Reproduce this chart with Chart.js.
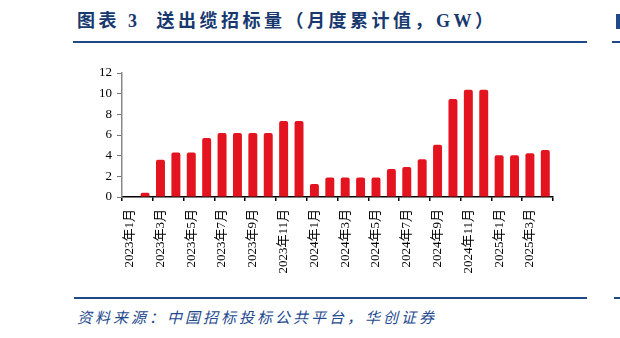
<!DOCTYPE html>
<html lang="zh">
<head>
  <meta charset="UTF-8" />
  <title>送出缆招标量</title>
  <script src="https://cdn.jsdelivr.net/npm/chart.js"></script>
  <style>
    html, body { margin: 0; padding: 0; background: #fff; }
    body { width: 620px; height: 338px; position: relative; overflow: hidden; }
    #title {
      position: absolute; left: 77px; top: 11px;
      font: bold 18px "Liberation Serif", "Noto Sans CJK SC", serif;
      line-height: 20px; letter-spacing: 3.5px; color: #17396f; white-space: nowrap;
    }
    .rule { position: absolute; height: 2px; background: #1f4a87; }
    #source {
      position: absolute; left: 77px; top: 308px;
      font: italic 15px "Noto Sans CJK SC", sans-serif;
      line-height: 18px; letter-spacing: 3px; color: #1f4a8f; white-space: nowrap;
    }
    #chartBox { position: absolute; left: 0; top: 60px; width: 620px; height: 230px; }
  </style>
</head>
<body>

  <div id="title">图表 3&nbsp;&nbsp;送出缆招标量（月度累计值，GW）</div>
  <div class="rule" style="left:73px; top:41px; width:514px;"></div>
  <div class="rule" style="left:612px; top:41px; width:8px;"></div>
  <div style="position:absolute; left:616px; top:14px; width:4px; height:15px; background:#1f4a87;"></div>

  <div id="chartBox">
    <canvas id="cableChart"></canvas>
  </div>

  <div class="rule" style="left:74px; top:297px; width:513px;"></div>
  <div class="rule" style="left:614px; top:297px; width:6px;"></div>
  <div id="source">资料来源：中国招标投标公共平台，华创证券</div>

  <script>
    const months = [
      '2023年1月', '2023年2月', '2023年3月', '2023年4月', '2023年5月', '2023年6月',
      '2023年7月', '2023年8月', '2023年9月', '2023年10月', '2023年11月', '2023年12月',
      '2024年1月', '2024年2月', '2024年3月', '2024年4月', '2024年5月', '2024年6月',
      '2024年7月', '2024年8月', '2024年9月', '2024年10月', '2024年11月', '2024年12月',
      '2025年1月', '2025年2月', '2025年3月', '2025年4月'
    ];
    // 月度累计值，GW
    const tenderGW = [
      0, 0.4, 3.6, 4.3, 4.3, 5.7, 6.2, 6.2, 6.2, 6.2, 7.35, 7.35,
      1.26, 1.88, 1.88, 1.88, 1.88, 2.72, 2.91, 3.66, 5.05, 9.48, 10.39, 10.39,
      4.05, 4.05, 4.24, 4.56
    ];
    const yTicks = [0, 2, 4, 6, 8, 10, 12];

    const tickFont = { family: '"Liberation Serif", "Noto Sans CJK SC", serif', size: 13 };

    const ctx = document.getElementById('cableChart').getContext('2d');
    new Chart(ctx, {
      type: 'bar',
      data: {
        labels: months,
        datasets: [{
          label: '送出缆招标量',
          data: tenderGW,
          backgroundColor: '#e3141f',
          borderRadius: { topLeft: 2, topRight: 2 },
          borderSkipped: 'start',
          barPercentage: 0.6,
          categoryPercentage: 0.97
        }]
      },
      options: {
        responsive: true,
        maintainAspectRatio: false,
        animation: false,
        layout: { padding: { top: 13, right: 67, bottom: 0, left: 0 } },
        plugins: { legend: { display: false }, tooltip: { enabled: false } },
        scales: {
          x: {
            offset: true,
            border: { display: true, color: '#000', width: 1.5 },
            grid: {
              offset: true,
              drawOnChartArea: false,
              tickLength: 4,
              lineWidth: 1.5,
              color: c => (c.index === undefined || c.index % 2 === 0) ? '#000' : 'rgba(0,0,0,0)'
            },
            ticks: {
              autoSkip: false,
              maxRotation: 90,
              minRotation: 90,
              padding: 8,
              color: '#000',
              font: tickFont,
              callback: (v, i) => i % 2 === 0 ? months[i] : ''
            },
            afterFit: s => { s.height = 93; }
          },
          y: {
            min: 0,
            max: 12,
            afterBuildTicks: s => { s.ticks = yTicks.map(v => ({ value: v })); },
            border: { display: true, color: '#888', width: 1.5 },
            grid: { drawOnChartArea: false, tickLength: 5, color: '#777' },
            ticks: { padding: 5, color: '#000', font: tickFont },
            afterFit: s => { s.width = 122; }
          }
        }
      }
    });
  </script>

</body>
</html>
